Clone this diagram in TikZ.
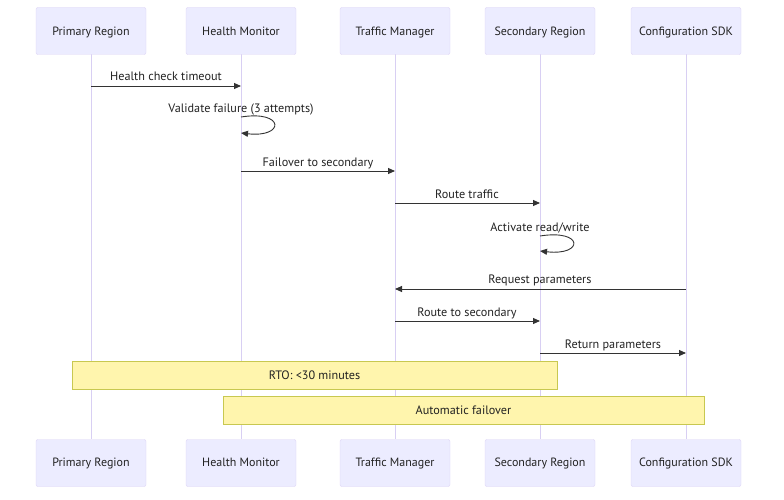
\documentclass[tikz,border=0pt]{standalone}
\usepackage{fontspec}
\setmainfont{PT Sans}
\usetikzlibrary{arrows.meta}
\definecolor{actfill}{HTML}{ECECFF}
\definecolor{actline}{HTML}{DCD3F5}
\definecolor{life}{HTML}{D8CFF3}
\definecolor{txt}{HTML}{222222}
\definecolor{msg}{HTML}{333333}
\definecolor{notefill}{HTML}{FFF5AD}
\definecolor{noteline}{HTML}{C8C850}
\begin{document}
\begin{tikzpicture}[x=1pt,y=-1pt,
  actor/.style={draw=actline,fill=actfill,rounded corners=2pt,minimum width=110pt,minimum height=47pt,inner sep=0pt,text height=11pt,text depth=1pt,font=\fontsize{12}{14}\selectfont,text=txt},
  lifeline/.style={draw=life,line width=1pt},
  msgline/.style={draw=msg,line width=0.9pt,-{Triangle[length=7pt,width=6pt]}},
  msglabel/.style={font=\fontsize{12.2}{14}\selectfont,text=txt,inner sep=0pt,text height=11pt,text depth=1pt},
  notebox/.style={draw=noteline,fill=notefill,inner sep=0pt,text height=10.5pt,text depth=1.5pt,font=\fontsize{12.2}{14}\selectfont,text=txt}]
\useasboundingbox (0,0) rectangle (784,500);
% lifelines
\foreach \x/\n in {91/a,241/b,395/c,540/d,686/e}{
  \coordinate (\n top) at (\x,54);
  \coordinate (\n bot) at (\x,439);
  \draw[lifeline] (\n top) -- (\n bot);
}
% actors top
\node[actor] (pt) at (91,31) {Primary Region};
\node[actor] (ht) at (241,31) {Health Monitor};
\node[actor] (tt) at (395,31) {Traffic Manager};
\node[actor] (st) at (540,31) {Secondary Region};
\node[actor] (ct) at (686,31) {Configuration SDK};
% actors bottom
\node[actor,text height=9pt,text depth=3pt] (pb) at (91,463) {Primary Region};
\node[actor,text height=9pt,text depth=3pt] (hb) at (241,463) {Health Monitor};
\node[actor,text height=9pt,text depth=3pt] (tb) at (395,463) {Traffic Manager};
\node[actor,text height=9pt,text depth=3pt] (sb) at (540,463) {Secondary Region};
\node[actor,text height=9pt,text depth=3pt] (cb) at (686,463) {Configuration SDK};
% messages
\coordinate (m1s) at (91,86); \coordinate (m1e) at (241,86);
\draw[msgline] (m1s) -- (m1e);
\node[msglabel] (l1) at (166,75.5) {Health check timeout};
\coordinate (m2s) at (241,117); \coordinate (m2e) at (241,133);
\draw[msgline] (m2s) .. controls (285,110) and (285,138) .. (m2e);
\node[msglabel] (l2) at (241,107.5) {Validate failure (3 attempts)};
\coordinate (m3s) at (241,171); \coordinate (m3e) at (395,171);
\draw[msgline] (m3s) -- (m3e);
\node[msglabel] (l3) at (318,161.5) {Failover to secondary};
\coordinate (m4s) at (395,203); \coordinate (m4e) at (540,203);
\draw[msgline] (m4s) -- (m4e);
\node[msglabel] (l4) at (467,193.5) {Route traffic};
\coordinate (m5s) at (540,236); \coordinate (m5e) at (540,251);
\draw[msgline] (m5s) .. controls (584,229) and (584,256) .. (m5e);
\node[msglabel] (l5) at (540,226.5) {Activate read/write};
\coordinate (m6s) at (686,289); \coordinate (m6e) at (395,289);
\draw[msgline] (m6s) -- (m6e);
\node[msglabel] (l6) at (540,278.5) {Request parameters};
\coordinate (m7s) at (395,321); \coordinate (m7e) at (540,321);
\draw[msgline] (m7s) -- (m7e);
\node[msglabel] (l7) at (467,311.5) {Route to secondary};
\coordinate (m8s) at (540,353); \coordinate (m8e) at (686,353);
\draw[msgline] (m8s) -- (m8e);
\node[msglabel] (l8) at (613,343.5) {Return parameters};
% notes
\node[notebox,minimum width=485pt,minimum height=28pt] (n1) at (314.5,375) {RTO: <30 minutes};
\node[notebox,minimum width=481pt,minimum height=28pt] (n2) at (463.5,410) {Automatic failover};
\end{tikzpicture}
\end{document}
